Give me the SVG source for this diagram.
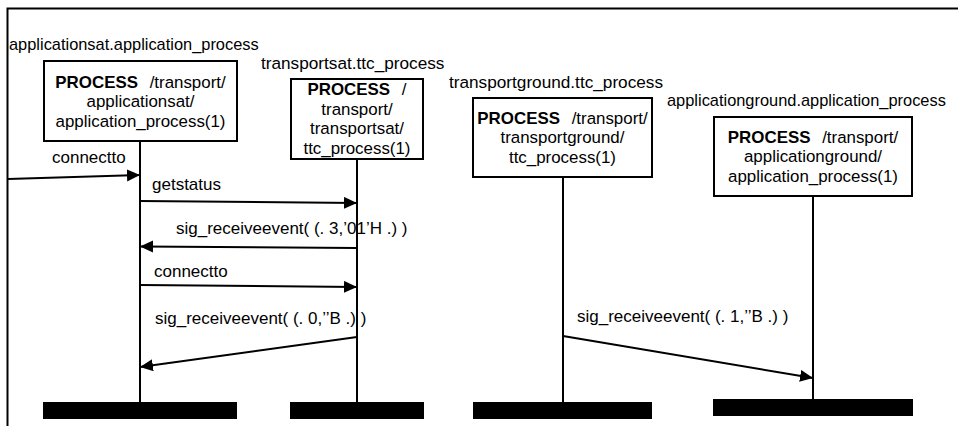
<svg xmlns="http://www.w3.org/2000/svg" width="958" height="426" viewBox="0 0 958 426">
  <style>
    text { font-family: "Liberation Sans", Arial, sans-serif; font-size: 17px; fill: #000; }
    .ha { font-size: 16.4px; }
    .ht { font-size: 17.2px; }
    .c { text-anchor: middle; font-size: 16.9px; }
    .b { font-weight: bold; }
    .box { fill: #fff; stroke: #000; stroke-width: 2; }
    .life { stroke: #000; stroke-width: 2; fill: none; }
    .msg { stroke: #000; stroke-width: 2; fill: none; marker-end: url(#head); }
    .bar { fill: #000; }
  </style>
  <defs>
    <marker id="head" markerUnits="userSpaceOnUse" markerWidth="14" markerHeight="14" refX="13" refY="6" orient="auto">
      <path d="M0,0 L13,6 L0,12 Z" fill="#000"/>
    </marker>
  </defs>

  <rect width="958" height="426" fill="#fff"/>

  <!-- environment frame -->
  <path d="M7.5,426 V8.5 H958" fill="none" stroke="#000" stroke-width="2"/>

  <g id="applicationsat">
    <text class="ha" x="9" y="50">applicationsat.application_process</text>
    <rect class="box" x="44" y="61" width="193" height="80"/>
    <text class="c" x="140.5" y="87.5"><tspan class="b">PROCESS</tspan><tspan dx="7"> /transport/</tspan></text>
    <text class="c" x="140.5" y="107">applicationsat/</text>
    <text class="c" x="140.5" y="126.5">application_process(1)</text>
    <line class="life" x1="140" y1="141" x2="140" y2="402"/>
    <rect class="bar" x="43" y="402" width="194" height="17"/>
  </g>

  <g id="transportsat">
    <text class="ht" x="261" y="69">transportsat.ttc_process</text>
    <rect class="box" x="291" y="79" width="132" height="80"/>
    <text class="c" x="357" y="95"><tspan class="b">PROCESS</tspan><tspan dx="7"> /</tspan></text>
    <text class="c" x="357" y="114.5">transport/</text>
    <text class="c" x="357" y="134">transportsat/</text>
    <text class="c" x="357" y="153.5">ttc_process(1)</text>
    <line class="life" x1="357" y1="159" x2="357" y2="402"/>
    <rect class="bar" x="290" y="402" width="134" height="17"/>
  </g>

  <g id="transportground">
    <text class="ht" x="449" y="88">transportground.ttc_process</text>
    <rect class="box" x="473" y="98" width="179" height="79"/>
    <text class="c" x="562.5" y="123.5"><tspan class="b">PROCESS</tspan><tspan dx="7"> /transport/</tspan></text>
    <text class="c" x="562.5" y="143">transportground/</text>
    <text class="c" x="562.5" y="162.5">ttc_process(1)</text>
    <line class="life" x1="563" y1="177" x2="563" y2="402"/>
    <rect class="bar" x="473" y="402" width="179" height="17"/>
  </g>

  <g id="applicationground">
    <text class="ha" x="667" y="106">applicationground.application_process</text>
    <rect class="box" x="714" y="117" width="198" height="79"/>
    <text class="c" x="813" y="142.5"><tspan class="b">PROCESS</tspan><tspan dx="7"> /transport/</tspan></text>
    <text class="c" x="813" y="162">applicationground/</text>
    <text class="c" x="813" y="181.5">application_process(1)</text>
    <line class="life" x1="813" y1="196" x2="813" y2="399"/>
    <rect class="bar" x="713" y="399" width="200" height="17"/>
  </g>

  <g id="messages">
    <line class="msg" x1="8" y1="179" x2="140" y2="175"/>
    <text x="52" y="163">connectto</text>

    <line class="msg" x1="140" y1="201" x2="357" y2="203"/>
    <text x="152" y="190">getstatus</text>

    <line class="msg" x1="357" y1="248" x2="140" y2="246.5"/>
    <text x="176" y="234">sig_receiveevent( (. 3,’01’H .) )</text>

    <line class="msg" x1="140" y1="285" x2="357" y2="287"/>
    <text x="154" y="277">connectto</text>

    <line class="msg" x1="357" y1="337" x2="140" y2="367"/>
    <text x="155" y="324">sig_receiveevent( (. 0,’’B .) )</text>

    <line class="msg" x1="563" y1="336" x2="813" y2="378"/>
    <text x="577" y="322">sig_receiveevent( (. 1,’’B .) )</text>
  </g>
</svg>
